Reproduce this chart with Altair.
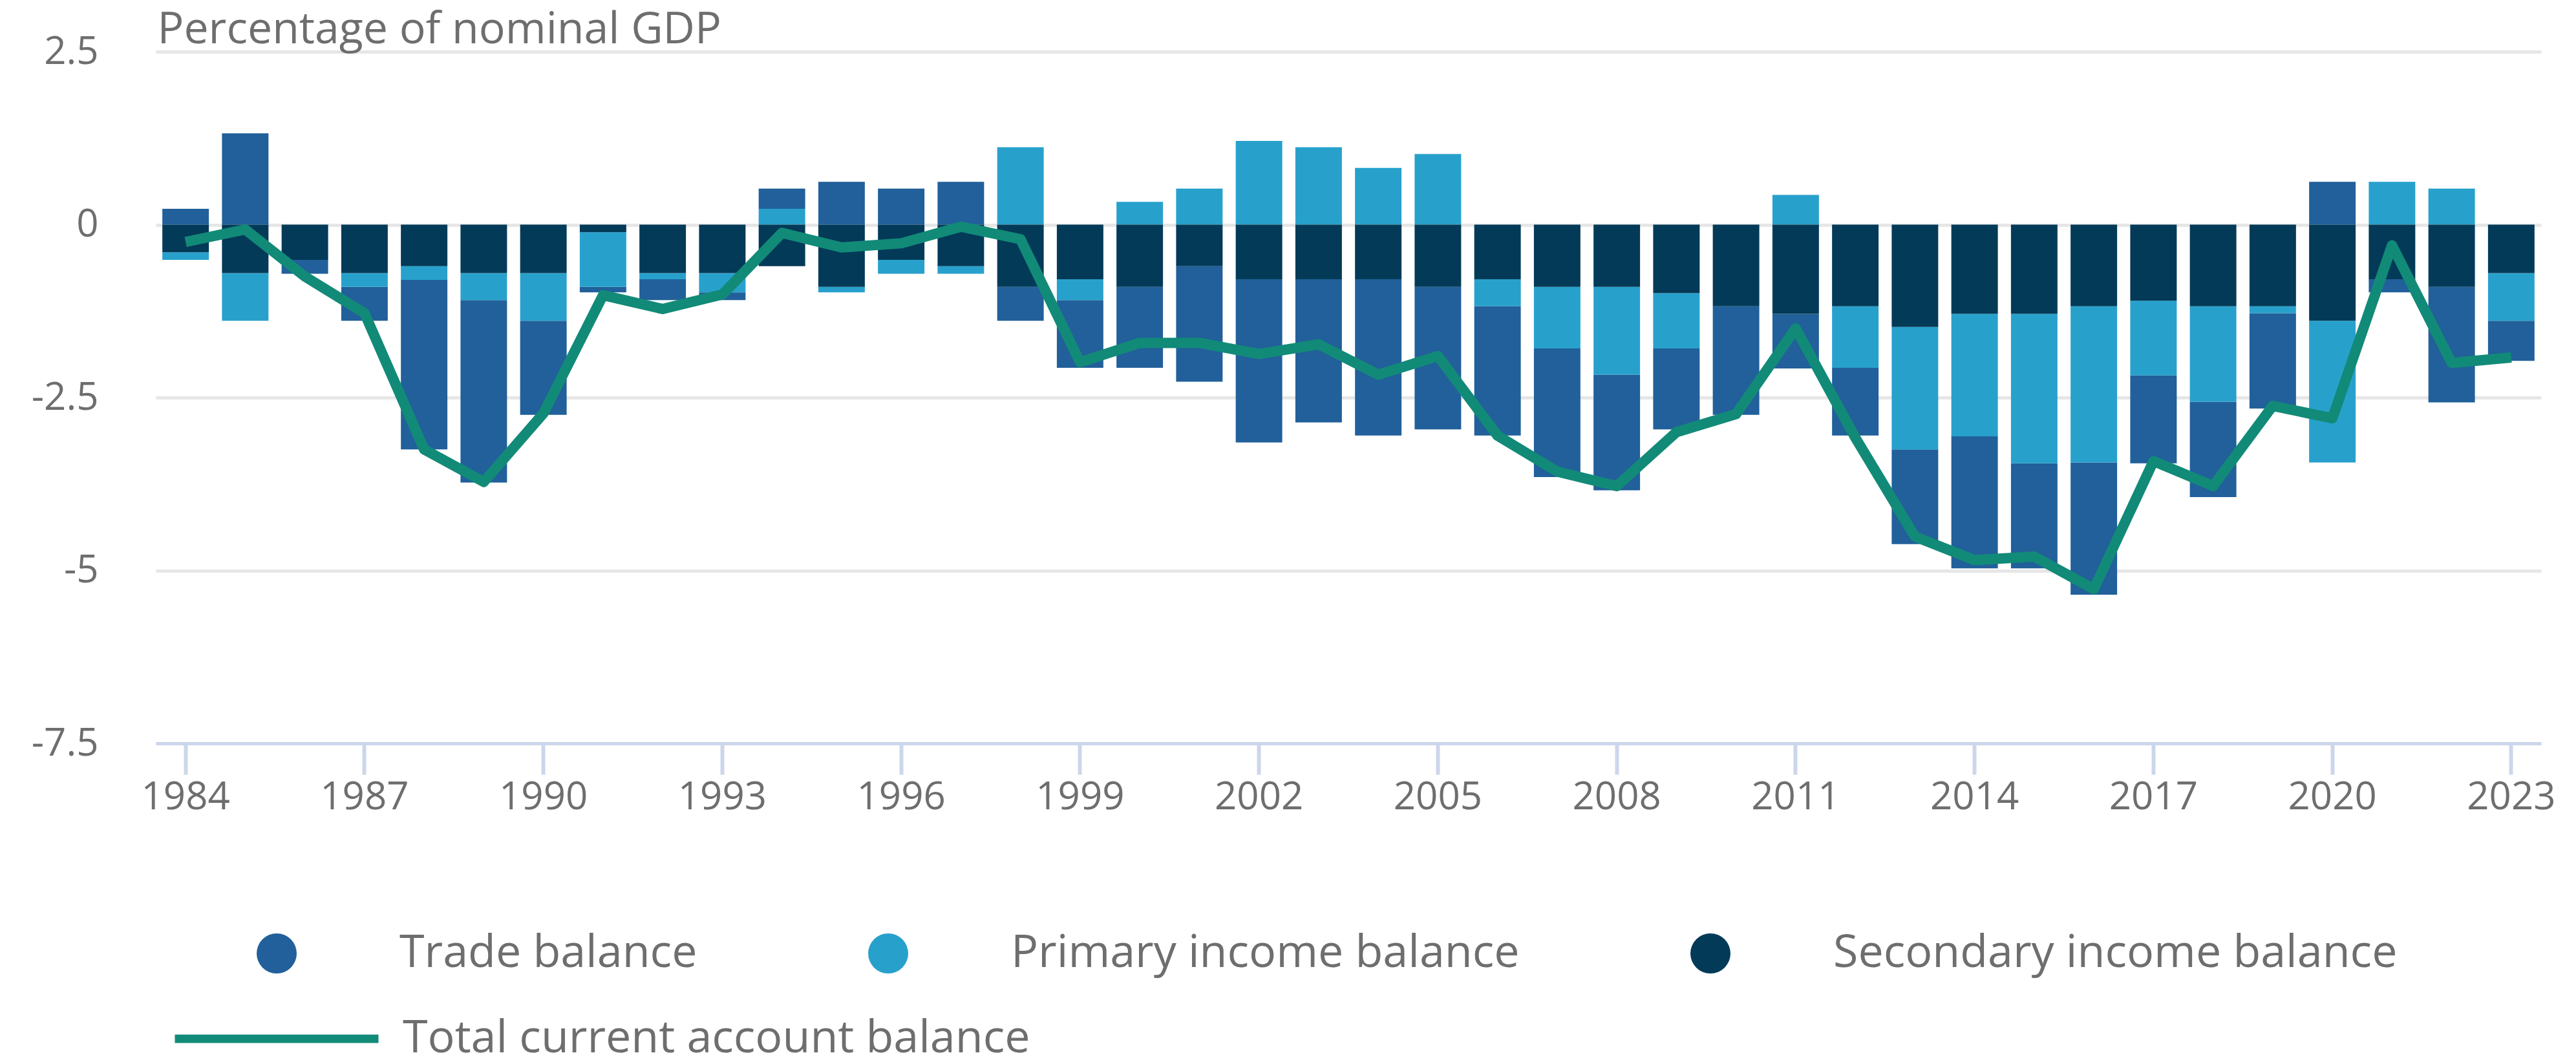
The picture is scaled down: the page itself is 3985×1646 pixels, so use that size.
import altair as alt
import pandas as pd

years = [str(y) for y in range(1984, 2024)]

trade = [0.23, 1.32, -0.20, -0.49, -2.45, -2.64, -1.36, -0.08, -0.30, -0.11,
         0.29, 0.62, 0.52, 0.62, -0.49, -0.98, -1.17, -1.67, -2.36, -2.07,
         -2.26, -2.06, -1.87, -1.86, -1.67, -1.17, -1.57, -0.79, -0.98, -1.37,
         -1.91, -1.52, -1.91, -1.27, -1.38, -1.38, 0.62, -0.19, -1.67, -0.58]

primary = [-0.11, -0.69, 0.0, -0.20, -0.20, -0.39, -0.69, -0.79, -0.09, -0.28,
           0.23, -0.08, -0.20, -0.11, 1.12, -0.30, 0.33, 0.52, 1.21, 1.12,
           0.82, 1.02, -0.39, -0.89, -1.27, -0.80, 0.0, 0.43, -0.89, -1.77,
           -1.77, -2.16, -2.26, -1.08, -1.38, -0.10, -2.05, 0.62, 0.52, -0.69]

secondary = [-0.40, -0.70, -0.51, -0.70, -0.60, -0.70, -0.70, -0.11, -0.70, -0.70,
             -0.60, -0.90, -0.51, -0.60, -0.90, -0.79, -0.90, -0.60, -0.79, -0.79,
             -0.79, -0.90, -0.79, -0.90, -0.90, -0.99, -1.18, -1.29, -1.18, -1.48,
             -1.29, -1.29, -1.18, -1.10, -1.18, -1.18, -1.39, -0.79, -0.90, -0.70]

total = [-0.25, -0.07, -0.75, -1.28, -3.25, -3.72, -2.73, -1.02, -1.22, -1.01,
         -0.12, -0.33, -0.27, -0.03, -0.21, -1.99, -1.71, -1.71, -1.87, -1.73,
         -2.17, -1.90, -3.05, -3.57, -3.78, -3.00, -2.74, -1.50, -3.08, -4.51,
         -4.85, -4.80, -5.27, -3.42, -3.78, -2.62, -2.80, -0.30, -2.00, -1.92]

series_names = ["Trade balance", "Primary income balance", "Secondary income balance"]
series_colors = ["#21609a", "#27a1cc", "#033a58"]
stack_rank = [2, 1, 0]  # secondary nearest zero, then primary, then trade
line_name = "Total current account balance"
line_color = "#128a78"

tick_years = [str(y) for y in range(1984, 2024, 3)]
y_ticks = [2.5, 0, -2.5, -5, -7.5]

rows = []
for i, yr in enumerate(years):
    for name, vals, rk in zip(series_names, [trade, primary, secondary], stack_rank):
        rows.append({"year": yr, "series": name, "value": vals[i], "rank": rk})
bars_df = pd.DataFrame(rows)
line_df = pd.DataFrame({"year": years, "total": total, "series": [line_name] * len(years)})

FONT = "Open Sans"
TXT = "#6e6e6e"

x_axis = alt.Axis(
    values=tick_years, labelAngle=0, grid=False,
    domainColor="#ccd6eb", domainWidth=5,
    tickColor="#ccd6eb", tickWidth=6, tickSize=48,
    labelFontSize=60, labelColor=TXT, labelFont=FONT, labelPadding=6,
)
x_scale = alt.Scale(paddingInner=0.22, paddingOuter=0.11)

y_axis = alt.Axis(
    values=y_ticks, labelExpr="toString(datum.value)",
    grid=True, gridColor="#e6e6e6", gridWidth=5,
    domain=False, ticks=False, tickSize=0,
    labelPadding=89, labelFontSize=60, labelColor=TXT, labelFont=FONT,
    title="Percentage of nominal GDP", titleAngle=0, titleAlign="left",
    titleBaseline="alphabetic", titleX=2, titleY=-14, titleFontSize=68,
    titleFontWeight="normal", titleColor=TXT, titleFont=FONT,
)
y_scale = alt.Scale(domain=[-7.5, 2.5], nice=False, zero=False)

bars = alt.Chart(bars_df).mark_bar().encode(
    x=alt.X("year:N", title=None, scale=x_scale, axis=x_axis),
    y=alt.Y("value:Q", stack="zero", scale=y_scale, axis=y_axis),
    color=alt.Color(
        "series:N",
        scale=alt.Scale(domain=series_names, range=series_colors),
        legend=alt.Legend(
            orient="none", legendX=152, legendY=1360, direction="horizontal",
            columns=3, symbolType="circle", symbolSize=3844, symbolStrokeWidth=0,
            labelOffset=155, columnPadding=260, title=None, padding=0,
            labelFontSize=70, labelColor=TXT, labelFont=FONT, labelLimit=3000,
        ),
    ),
    order=alt.Order("rank:Q", sort="ascending"),
)

line = alt.Chart(line_df).mark_line(strokeWidth=16, strokeJoin="round").encode(
    x=alt.X("year:N", title=None, scale=x_scale, axis=x_axis),
    y=alt.Y("total:Q", scale=y_scale, axis=y_axis),
    stroke=alt.Stroke(
        "series:N",
        scale=alt.Scale(domain=[line_name], range=[line_color]),
        legend=alt.Legend(
            orient="none", legendX=149, legendY=1489, symbolType="M-5,0L5,0",
            symbolSize=3969, symbolStrokeWidth=13, labelOffset=157, title=None,
            padding=0, labelFontSize=70, labelColor=TXT, labelFont=FONT,
            labelLimit=3000,
        ),
    ),
)

chart = alt.layer(bars, line).properties(
    width=3690,
    height=1070,
    autosize=alt.AutoSizeParams(type="none"),
    padding={"left": 233, "top": 72, "right": 30, "bottom": 486},
).configure_view(stroke=None)

chart.save("out.html", embed_options={"renderer": "svg", "actions": False})
